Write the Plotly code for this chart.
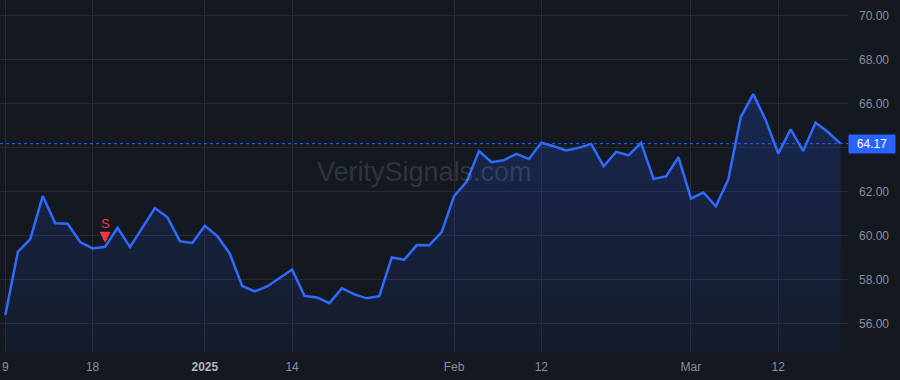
import pandas as pd
import plotly.graph_objects as go

# ---- data ----
holidays = ["2024-12-25", "2025-01-01", "2025-01-09", "2025-01-20", "2025-02-17"]
dates = [d.strftime("%Y-%m-%d") for d in pd.bdate_range("2024-12-09", "2025-03-19")
         if d.strftime("%Y-%m-%d") not in holidays]

prices = [56.38, 59.25, 59.83, 61.79, 60.55, 60.53, 59.70, 59.41, 59.48, 60.35,
          59.47, 60.36, 61.24, 60.82, 59.74, 59.66, 60.44, 59.97, 59.18, 57.70,
          57.45, 57.68, 58.07, 58.45, 57.25, 57.18, 56.92, 57.60, 57.32, 57.14,
          57.24, 59.00, 58.89, 59.56, 59.55, 60.15, 61.79, 62.44, 63.83, 63.33,
          63.42, 63.71, 63.47, 64.21, 64.05, 63.86, 63.98, 64.16, 63.14, 63.80,
          63.64, 64.21, 62.57, 62.68, 63.55, 61.68, 61.95, 61.32, 62.55, 65.39,
          66.42, 65.24, 63.72, 64.82, 63.84, 65.12, 64.70, 64.17]

signal_dates = ["2024-12-19"]
signal_labels = ["S"]

tick_dates = ["2024-12-09", "2024-12-18", "2025-01-02", "2025-01-14",
              "2025-02-03", "2025-02-12", "2025-03-03", "2025-03-12"]
tick_text = ["9", "18", "<b><span style='color:#b2b5be'>2025</span></b>", "14",
             "Feb", "12", "Mar", "12"]
y_ticks = [56, 58, 60, 62, 64, 66, 68, 70]

last_price = prices[-1]
# the 64.00 label sits under the last-price box, so only its grid line shows
y_text = ["" if abs(v - last_price) < 0.6 else f"{v:.2f}" for v in y_ticks]

BG = "#141821"
GRID = "#262a35"
BLUE = "#2962ff"
LINE = "#2f6bff"
RED = "#f23645"
TXT = "#8b8e97"

fig = go.Figure()

fig.add_trace(go.Scatter(
    x=dates, y=prices, mode="lines",
    line=dict(color=LINE, width=2.5),
    fill="tozeroy",
    fillgradient=dict(type="vertical", start=54.7, stop=66.5,
                      colorscale=[[0, "rgba(41,98,255,0.04)"], [1, "rgba(41,98,255,0.22)"]]),
    hoverinfo="skip", showlegend=False,
))

for d, lab in zip(signal_dates, signal_labels):
    fig.add_annotation(
        x=d, y=prices[dates.index(d)], xref="x", yref="y",
        text=lab, showarrow=True, ax=0, ay=-23,
        arrowhead=2, arrowsize=0.55, arrowwidth=4, arrowcolor=RED,
        standoff=4, startstandoff=1,
        font=dict(color=RED, size=13, family="Liberation Sans, Arial"),
    )

fig.add_shape(type="line", xref="paper", x0=0, x1=1, yref="y",
              y0=last_price, y1=last_price,
              line=dict(color=BLUE, width=1, dash="3px,3px"))

fig.add_annotation(xref="paper", x=1, yref="y", y=last_price,
                   text=f"{last_price:.2f}", showarrow=False,
                   xanchor="left", yanchor="middle", xshift=0,
                   bgcolor=BLUE, font=dict(color="white", size=12,
                                           family="Liberation Sans, Arial"),
                   borderpad=2, width=42, align="center")

fig.add_annotation(xref="paper", yref="paper", x=0.5, y=0.51,
                   text="VeritySignals.com", showarrow=False,
                   font=dict(size=27, color="rgba(255,255,255,0.13)",
                             family="Liberation Sans, Arial"))

fig.update_layout(
    width=900, height=380,
    margin=dict(l=0, r=52, t=0, b=28),
    paper_bgcolor=BG, plot_bgcolor=BG,
    font=dict(family="Liberation Sans, Arial", size=12, color=TXT),
    xaxis=dict(type="category", categoryorder="array", categoryarray=dates,
               range=[-0.43, len(dates) - 0.4],
               tickvals=tick_dates, ticktext=tick_text,
               showgrid=True, gridcolor=GRID, gridwidth=1,
               zeroline=False, showline=False, ticks="",
               tickfont=dict(size=12, color=TXT), ticklabelstandoff=6),
    yaxis=dict(side="right", range=[54.70, 70.70], tickvals=y_ticks,
               ticktext=y_text, showgrid=True, gridcolor=GRID, gridwidth=1,
               zeroline=False, showline=False, ticks="",
               tickfont=dict(size=12, color=TXT), ticklabelstandoff=10),
)

fig.write_html("out.html")
